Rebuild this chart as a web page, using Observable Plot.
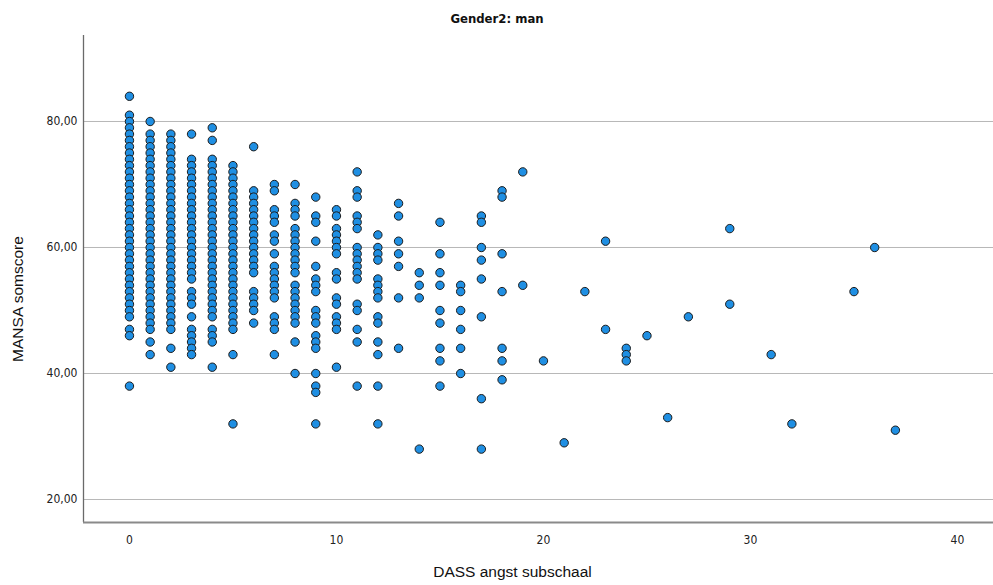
<!DOCTYPE html>
<html>
<head>
<meta charset="utf-8">
<script src="https://cdn.jsdelivr.net/npm/d3@7"></script>
<script src="https://cdn.jsdelivr.net/npm/@observablehq/plot@0.6"></script>
<style>
  html, body { margin: 0; padding: 0; background: #fff; }
</style>
</head>
<body>
<div id="chart"></div>
<script>
// ---- Data (DASS angst subschaal -> MANSA somscore values) ----
const title = "Gender2: man";
const xLabel = "DASS angst subschaal";
const yLabel = "MANSA somscore";
const xTicks = [0, 10, 20, 30, 40];
const yTicks = [20, 40, 60, 80];

const mansa_d0 = [84, 81, 80, 79, 78, 77, 76, 75, 74, 73, 72, 71, 70, 69, 68, 67, 66, 65, 64, 63, 62, 61, 60, 59, 58, 57, 56, 55, 54, 53, 52, 51, 50, 49, 47, 46, 38];
const mansa_d1 = [80, 78, 77, 76, 75, 74, 73, 72, 71, 70, 69, 68, 67, 66, 65, 64, 63, 62, 61, 60, 59, 58, 57, 56, 55, 54, 53, 52, 51, 50, 49, 48, 47, 45, 43];
const mansa_d2 = [78, 77, 76, 75, 74, 73, 72, 71, 70, 69, 68, 67, 66, 65, 64, 63, 62, 61, 60, 59, 58, 57, 56, 55, 54, 53, 52, 51, 50, 49, 48, 47, 44, 41];
const mansa_d3 = [78, 74, 73, 72, 71, 70, 69, 68, 67, 66, 65, 64, 63, 62, 61, 60, 59, 58, 57, 56, 55, 53, 52, 51, 49, 47, 46, 45, 44, 43];
const mansa_d4 = [79, 77, 74, 73, 72, 71, 70, 69, 68, 67, 66, 65, 64, 63, 62, 61, 60, 59, 58, 57, 56, 55, 54, 53, 52, 51, 50, 49, 47, 46, 45, 41];
const mansa_d5 = [73, 72, 71, 70, 69, 68, 67, 66, 65, 64, 63, 62, 61, 60, 59, 58, 57, 56, 55, 54, 53, 52, 51, 50, 49, 48, 47, 43, 32];
const mansa_d6 = [76, 69, 68, 67, 66, 65, 64, 63, 62, 61, 60, 59, 58, 57, 56, 53, 52, 51, 50, 48];
const mansa_d7 = [70, 69, 66, 65, 64, 62, 61, 59, 57, 56, 55, 54, 53, 52, 49, 48, 47, 43];
const mansa_d8 = [70, 67, 66, 65, 63, 62, 61, 60, 59, 58, 57, 56, 54, 53, 52, 51, 50, 49, 48, 45, 40];
const mansa_d9 = [68, 65, 64, 61, 57, 55, 54, 53, 50, 49, 48, 46, 45, 44, 40, 38, 37, 32];
const mansa_d10 = [66, 65, 63, 62, 61, 60, 59, 56, 55, 52, 51, 49, 48, 47, 41];
const mansa_d11 = [72, 69, 68, 65, 64, 63, 60, 59, 58, 57, 56, 55, 51, 50, 47, 45, 38];
const mansa_d12 = [62, 60, 59, 58, 55, 54, 53, 52, 49, 48, 45, 43, 38, 32];
const mansa_d13 = [67, 65, 61, 59, 57, 52, 44];
const mansa_d14 = [56, 54, 52, 28];
const mansa_d15 = [64, 59, 56, 54, 50, 48, 44, 42, 38];
const mansa_d16 = [54, 53, 50, 47, 44, 40];
const mansa_d17 = [65, 64, 60, 58, 55, 49, 36, 28];
const mansa_d18 = [69, 68, 59, 53, 44, 42, 39];
const mansa_d19 = [72, 54];
const mansa_d20 = [42];
const mansa_d21 = [29];
const mansa_d22 = [53];
const mansa_d23 = [61, 47];
const mansa_d24 = [44, 43, 42];
const mansa_d25 = [46];
const mansa_d26 = [33];
const mansa_d27 = [49];
const mansa_d29 = [63, 51];
const mansa_d31 = [43];
const mansa_d32 = [32];
const mansa_d35 = [53];
const mansa_d36 = [60];
const mansa_d37 = [31];

const columns = [
  [0, mansa_d0], [1, mansa_d1], [2, mansa_d2], [3, mansa_d3], [4, mansa_d4],
  [5, mansa_d5], [6, mansa_d6], [7, mansa_d7], [8, mansa_d8], [9, mansa_d9],
  [10, mansa_d10], [11, mansa_d11], [12, mansa_d12], [13, mansa_d13], [14, mansa_d14],
  [15, mansa_d15], [16, mansa_d16], [17, mansa_d17], [18, mansa_d18], [19, mansa_d19],
  [20, mansa_d20], [21, mansa_d21], [22, mansa_d22], [23, mansa_d23], [24, mansa_d24],
  [25, mansa_d25], [26, mansa_d26], [27, mansa_d27], [29, mansa_d29], [31, mansa_d31],
  [32, mansa_d32], [35, mansa_d35], [36, mansa_d36], [37, mansa_d37]
];

const points = columns.flatMap(([dass, vals]) => vals.map(m => ({dass, mansa: m})));

// ---- Layout / style ----
const xDomain = [-2.22, 41.74];
const yDomain = [16.35, 93.65];
const narrow = "'Liberation Sans Narrow', 'Arial Narrow', 'DejaVu Sans Condensed', 'Roboto Condensed', sans-serif";
const regular = "'Liberation Sans', Arial, sans-serif";

const chart = Plot.plot({
  width: 993,
  height: 585,
  marginTop: 35,
  marginBottom: 63,
  marginLeft: 83,
  marginRight: 0,
  style: {fontFamily: narrow, fontSize: "12px", color: "#222", background: "#fff"},
  x: {domain: xDomain, ticks: xTicks, tickSize: 0, tickPadding: 13, label: null},
  y: {domain: yDomain, ticks: yTicks, tickSize: 0, tickPadding: 6, label: null,
      tickFormat: d => d.toFixed(2).replace(".", ",")},
  marks: [
    Plot.ruleY(yTicks, {stroke: "#b8b8b8", strokeWidth: 1}),
    Plot.ruleX([xDomain[0]], {stroke: "#6a6a6a", strokeWidth: 1.3}),
    Plot.ruleY([yDomain[0]], {stroke: "#8a8a8a", strokeWidth: 2}),
    Plot.dot(points, {x: "dass", y: "mansa", r: 4.2, fill: "#1f8fe3", stroke: "#1b1b1b", strokeWidth: 1, fillOpacity: 1}),
    Plot.text([title], {frameAnchor: "top", dx: -41.5, dy: -17, lineAnchor: "middle", textAnchor: "middle",
      fontFamily: narrow, fontWeight: "bold", fontSize: 13, fill: "#111"}),
    Plot.text([xLabel], {frameAnchor: "bottom", dx: -26, dy: 50, lineAnchor: "middle", textAnchor: "middle",
      fontFamily: regular, fontSize: 15.5, fill: "#111"}),
    Plot.text([yLabel], {frameAnchor: "left", rotate: -90, dx: -65, dy: 20, lineAnchor: "middle", textAnchor: "middle",
      fontFamily: regular, fontSize: 15.5, fill: "#111"})
  ]
});

document.getElementById("chart").appendChild(chart);
</script>
</body>
</html>
